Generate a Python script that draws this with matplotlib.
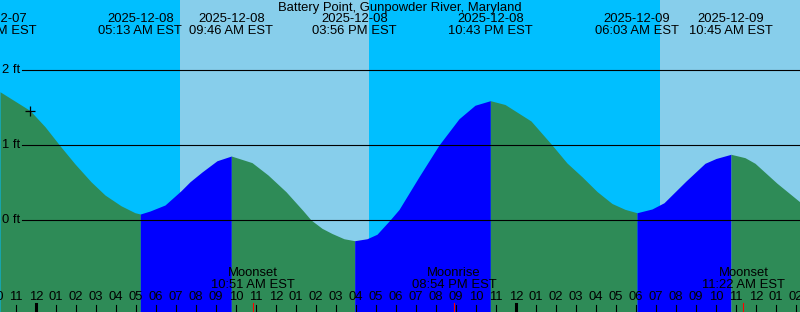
import matplotlib
matplotlib.use("Agg")
import matplotlib.pyplot as plt
from datetime import datetime

plt.rcParams['font.family'] = ['Liberation Sans', 'DejaVu Sans']

title = "Battery Point, Gunpowder River, Maryland"
origin = datetime(2025, 12, 8, 0, 0)

# tide extremes (local time, feet)
tide_times = ["2025-12-07 21:54", "2025-12-08 05:13", "2025-12-08 09:46",
              "2025-12-08 15:56", "2025-12-08 22:43", "2025-12-09 06:03",
              "2025-12-09 10:45"]
tide_heights = [1.73, 0.08, 0.853, -0.276, 1.591, 0.097, 0.876]

# tide level read between the extremes (hours after 2025-12-08 00:00, feet)
curve_hours = [-1.8, -0.3, 0.45, 1.2, 1.95, 2.75, 3.45, 4.25, 4.95,
               5.7, 6.45, 7.25, 7.7, 8.3, 9.05,
               10.8, 11.6, 12.5, 13.35, 13.75, 14.3, 14.8, 15.4,
               16.55, 17.05, 17.7, 18.15, 19.15, 20.15, 21.15, 21.95,
               23.45, 24.75, 25.8, 26.55, 27.3, 28.05, 28.8, 29.45,
               30.8, 31.4, 32.5, 33.45, 34.0,
               35.45, 35.95, 37.05, 38.2]
curve_ft = [1.71, 1.46, 1.244, 0.99, 0.747, 0.51, 0.333, 0.19, 0.097,
            0.12, 0.2, 0.39, 0.51, 0.64, 0.79,
            0.765, 0.6, 0.377, 0.125, 0.0, -0.111, -0.18, -0.25,
            -0.25, -0.19, 0.0, 0.14, 0.577, 1.0, 1.35, 1.53,
            1.54, 1.32, 1.0, 0.76, 0.577, 0.38, 0.22, 0.142,
            0.147, 0.23, 0.52, 0.756, 0.82,
            0.831, 0.756, 0.49, 0.24]

sun_times = ["2025-12-08 07:12", "2025-12-08 16:39", "2025-12-09 07:12"]
sun_kinds = ["rise", "set", "rise"]

moon_times = ["2025-12-08 10:51", "2025-12-08 20:54", "2025-12-09 11:22"]
moon_kinds = ["Moonset", "Moonrise", "Moonset"]

now_hour, now_ft = -0.3, 1.453
level_lines = [0, 1, 2]

NIGHT = "#00bfff"
DAY = "#87ceeb"
RISING = "#0000ff"
FALLING = "#2e8b57"
W, H = 800, 312
FS = 9.4


def to_dt(s):
    return datetime.strptime(s, "%Y-%m-%d %H:%M")


def hours(s):
    return (to_dt(s) - origin).total_seconds() / 3600


def row(ypix):
    # pixel row -> axes fraction
    return 1 - ypix / H


fig = plt.figure(figsize=(8, 3.12), dpi=100)
ax = fig.add_axes([0, 0, 1, 1])
x0, x1 = -1.8, 38.2
ax.set_xlim(x0, x1)
ax.set_ylim((220 - H) / 75, 220 / 75)
ax.axis('off')
xt = ax.get_xaxis_transform()

# sky: night / day
edges = [x0] + [hours(s) for s in sun_times] + [x1]
state = "night"
for i in range(len(edges) - 1):
    ax.axvspan(edges[i], edges[i + 1], color=NIGHT if state == "night" else DAY, lw=0)
    if i < len(sun_kinds):
        state = "day" if sun_kinds[i] == "rise" else "night"

# tide curve, blue while rising, green while falling
ext_h = [hours(s) for s in tide_times]
pts = sorted(zip(curve_hours + ext_h, curve_ft + tide_heights))
bounds = [x0] + [h for h in ext_h if x0 < h < x1] + [x1]
bottom = (220 - H) / 75
for a, b in zip(bounds[:-1], bounds[1:]):
    seg = [(x, y) for x, y in pts if a <= x <= b]
    sx = [p[0] for p in seg]
    sy = [p[1] for p in seg]
    rising = sy[-1] > sy[0]
    ax.fill_between(sx, sy, bottom, color=RISING if rising else FALLING, lw=0)

# level lines
for lv in level_lines:
    ax.axhline(lv, xmin=22 / W, xmax=1, color="black", lw=0.8)
    ax.text(x0 + 2 / 20, lv, f"{lv} ft", fontsize=FS, ha="left", va="center")

ax.plot([now_hour], [now_ft], marker="+", color="black", ms=7, mew=0.9)

# labels
ax.text(0.5, row(7.5), title, transform=ax.transAxes, fontsize=FS,
        ha="center", va="center")
for s in tide_times:
    d = to_dt(s)
    ax.text(hours(s), row(19.5), d.strftime("%Y-%m-%d"), transform=xt,
            fontsize=FS, ha="center", va="center")
    ax.text(hours(s), row(31.5), d.strftime("%I:%M %p EST"), transform=xt,
            fontsize=FS, ha="center", va="center")

for s, k in zip(moon_times, moon_kinds):
    d = to_dt(s)
    ax.text(hours(s), row(273.5), k, transform=xt, fontsize=FS,
            ha="center", va="center")
    ax.text(hours(s), row(285.5), d.strftime("%I:%M %p EST"), transform=xt,
            fontsize=FS, ha="center", va="center")
    ax.plot([hours(s)] * 2, [row(303), 0], transform=xt, color="red", lw=0.8)

# hour ticks
for hr in range(-2, 39):
    lab = hr % 12 or 12
    ax.text(hr, row(297.5), f"{lab:02d}", transform=xt, fontsize=FS,
            ha="center", va="center")
    midnight = hr % 24 == 0
    ax.plot([hr, hr], [row(304 if midnight else 305), 0], transform=xt,
            color="black", lw=2.2 if midnight else 0.8)

fig.savefig("out.png", dpi=100)
